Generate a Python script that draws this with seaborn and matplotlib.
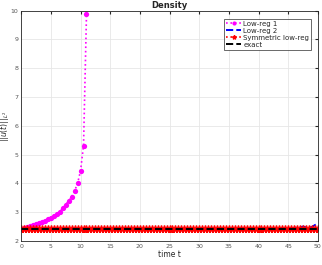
import numpy as np
import pandas as pd
import matplotlib
matplotlib.use("Agg")
import matplotlib.pyplot as plt
import seaborn as sns

# -------------------------------
# Data
# -------------------------------
t_lr1 = [0, 0.5, 1, 1.5, 2, 2.5, 3, 3.5, 4, 4.5, 5, 5.5, 6, 6.5, 7, 7.5,
         8, 8.5, 9, 9.5, 10, 10.5, 11]
lowreg1 = [2.43, 2.46, 2.49, 2.52, 2.55, 2.58, 2.62, 2.66, 2.70, 2.75, 2.80,
           2.86, 2.93, 3.02, 3.13, 3.26, 3.39, 3.53, 3.74, 4.0, 4.44, 5.31, 9.87]

t_full = [i * 0.5 for i in range(101)]
lowreg2 = [2.43] * 91 + [2.44, 2.45, 2.47, 2.46, 2.50, 2.47, 2.46, 2.48, 2.55, 2.59]
sym_lowreg = [2.43] * 101
exact = [2.43] * 101

series = ["Low-reg 1", "Low-reg 2", "Symmetric low-reg", "exact"]

# -------------------------------
# Plot
# -------------------------------
sns.set_style("whitegrid")
plt.rcParams["font.family"] = ["DejaVu Sans"]

fig = plt.figure(figsize=(3.22, 2.65), dpi=100)
ax = fig.add_axes([0.066, 0.091, 0.921, 0.869])

sns.lineplot(x=t_lr1, y=lowreg1, ax=ax, color="#ff00ff", linestyle=":",
             marker="o", markersize=3.8, markeredgewidth=0, lw=1.2, label=series[0])
sns.lineplot(x=t_full, y=lowreg2, ax=ax, color="#0000ff", linestyle="--",
             lw=1.4, label=series[1])
sns.lineplot(x=t_full, y=sym_lowreg, ax=ax, color="#ff0000", linestyle=":",
             marker="*", markersize=5.5, markeredgewidth=1.0, markeredgecolor="#ff0000",
             lw=1.2, label=series[2])
sns.lineplot(x=t_full, y=exact, ax=ax, color="black", linestyle="--",
             lw=1.4, label=series[3])

ax.set_xlim(0, 50)
ax.set_ylim(2, 10)
ax.set_xticks(range(0, 51, 5))
ax.set_yticks(range(2, 11))
ax.tick_params(direction="in", length=2, labelsize=4.5, colors="#262626",
               labelcolor="#555555", top=True, right=True, pad=2)
ax.grid(True, color="#e6e6e6", lw=0.6)
for s in ax.spines.values():
    s.set_color("#262626")
    s.set_linewidth(0.6)

ax.set_title("Density", fontsize=6, fontweight="bold", pad=2)
ax.set_xlabel("time t", fontsize=5.5, labelpad=1)
ax.set_ylabel(r"$||u(t)||_{L^2}$", fontsize=5.5)
ax.yaxis.set_label_coords(-0.034, 0.5)

leg = ax.legend(loc="upper right", fontsize=5, frameon=True, fancybox=False,
                handlelength=2.2, borderpad=0.3, labelspacing=0.15,
                handletextpad=0.3, bbox_to_anchor=(0.99, 0.98))
leg.get_frame().set_edgecolor("#262626")
leg.get_frame().set_linewidth(0.6)
for h in leg.legend_handles:
    h.set_markersize(3)

plt.savefig("out.png", dpi=100)
